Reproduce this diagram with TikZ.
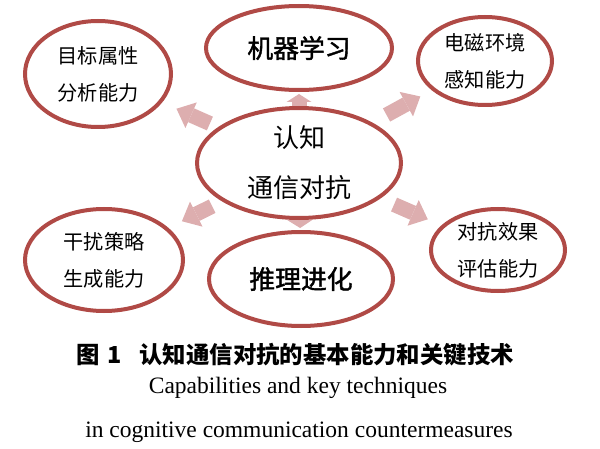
\documentclass[tikz,border=0pt]{standalone}
\usepackage{fontspec}
\newfontfamily\cjk{Noto Sans CJK SC}
\newfontfamily\cjkmid[FakeBold=1.6]{Noto Sans CJK SC}
\newfontfamily\tnr{Liberation Serif}
\usepackage{tikz}
\usetikzlibrary{arrows.meta,shapes.geometric,backgrounds}
\definecolor{ringred}{RGB}{176,74,70}
\definecolor{arrowpink}{RGB}{221,174,175}

\begin{document}
\begin{tikzpicture}[x=0.5pt, y=-0.5pt,
  ring/.style={ellipse, draw=ringred, line width=2pt, fill=white,
    inner sep=0pt, align=center},
  side/.style={ring, font=\cjk\fontsize{10.1pt}{18.5pt}\selectfont},
  bigarr/.style={draw=arrowpink, line width=7.5pt,
    -{Triangle[width=14pt, length=8pt, line width=0pt]}},
  smallarr/.style={draw=arrowpink, line width=7.5pt,
    -{Triangle[width=12.5pt, length=4pt, line width=0pt]}}]
  \useasboundingbox (0,0) rectangle (600,449);
  % Core
  \node[ring, minimum width=102pt, minimum height=55pt,
    font=\cjk\fontsize{13pt}{25pt}\selectfont]
    (core) at (299,163) {认知\\通信对抗};
  % Top and bottom
  \node[ring, minimum width=93pt, minimum height=42pt,
    font=\cjkmid\fontsize{12.9pt}{15pt}\selectfont]
    (learn) at (299,48) {机器学习};
  \node[ring, minimum width=92pt, minimum height=47pt,
    font=\cjkmid\fontsize{12.9pt}{15pt}\selectfont]
    (reason) at (301,279) {推理进化};
  % Four capabilities
  \node[side, minimum width=73pt, minimum height=53pt]
    (target) at (98,74) {目标属性\\分析能力};
  \node[side, minimum width=67pt, minimum height=44pt]
    (sense) at (485,61) {电磁环境\\感知能力};
  \node[side, minimum width=79pt, minimum height=51pt]
    (jam) at (104,260) {干扰策略\\生成能力};
  \node[side, minimum width=67pt, minimum height=41pt]
    (assess) at (498,250) {对抗效果\\评估能力};
  % Block arrows behind the rings
  \begin{scope}[on background layer]
    \draw[bigarr, shorten <=4.5pt, shorten >=7.8pt] (core) -- (target);
    \draw[bigarr, shorten <=8pt, shorten >=6.5pt] (core) -- (sense);
    \draw[bigarr, shorten <=5.5pt, shorten >=7.5pt] (core) -- (jam);
    \draw[bigarr, shorten <=7.5pt, shorten >=7.5pt] (core) -- (assess);
    \draw[smallarr, shorten <=-6pt, shorten >=1pt] (core) -- (learn);
    \draw[smallarr, shorten <=-6pt, shorten >=1pt] (core) -- (reason);
  \end{scope}
  % Caption
  \node[font=\cjk\bfseries\fontsize{11.7pt}{14pt}\selectfont]
    (cap) at (295,355) {图\hspace{0.35em}1\hspace{0.75em}认知通信对抗的基本能力和关键技术};
  \node[font=\tnr\fontsize{11.75pt}{14pt}\selectfont]
    (capen) at (298,388) {Capabilities and key techniques};
  \node[font=\tnr\fontsize{11.75pt}{14pt}\selectfont]
    (capentwo) at (299,432) {in cognitive communication countermeasures};
\end{tikzpicture}
\end{document}
